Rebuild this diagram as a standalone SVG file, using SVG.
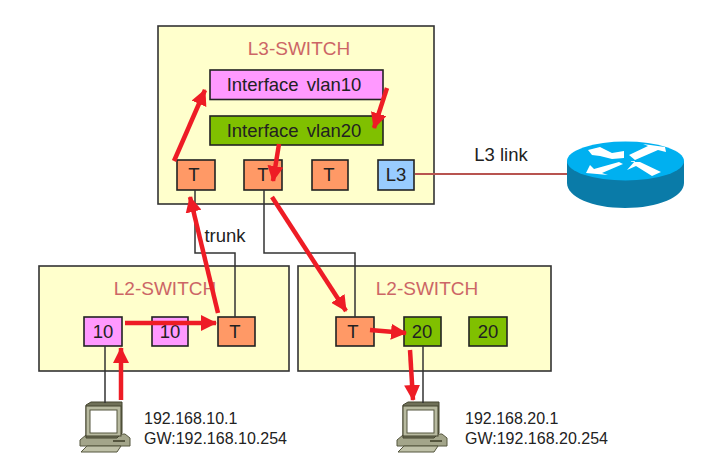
<svg xmlns="http://www.w3.org/2000/svg" width="702" height="459" viewBox="0 0 702 459">
<style>
text{font-family:"Liberation Sans",Arial,sans-serif;text-anchor:middle;fill:#222}
.sw{fill:#ffffcc;stroke:#333;stroke-width:1.6}
.port{stroke:#222;stroke-width:1.6}
.o{fill:#ff9966}.m{fill:#ff99ff}.g{fill:#80c000}.b{fill:#99ccff}
.t{font-size:19px;fill:#cc6666}
.l{font-size:18.500px}
.ip{font-size:16px;text-anchor:start}
.w{fill:none;stroke:#333;stroke-width:1.5}
.a{fill:none;stroke:#ee1c25;stroke-width:4.500;marker-end:url(#h)}
</style>
<defs>
<marker id="h" markerUnits="userSpaceOnUse" markerWidth="18" markerHeight="16" refX="15" refY="8" orient="auto"><path d="M0 0L16 8L0 16Z" fill="#ee1c25"/></marker>
<g id="pc">
<path d="M7 33L1 38V44H51V36L46 32Z" fill="#a3a58a" stroke="#55563f"/>
<path d="M8 44L2 50H38L42 44Z" fill="#bfc1a8" stroke="#55563f"/>
<path d="M7 3L12 0H43V31L38 36H7Z" fill="#6f7058" stroke="#44452f"/>
<rect x="7" y="4" width="35" height="30" fill="#b8baa0" stroke="#44452f"/>
<rect x="11" y="8" width="27" height="23" fill="#fff" stroke="#55563f"/>
<rect x="34" y="38" width="12" height="2" fill="#55563f"/>
</g>
</defs>
<g id="l3-switch">
<rect class="sw" x="158" y="26" width="276" height="178"/>
<text class="t" x="299" y="55">L3-SWITCH</text>
</g>
<g id="vlan10"><rect class="port m" x="210" y="70" width="173" height="29.500"/><text class="l" x="294" y="91" style="word-spacing:3px">Interface vlan10</text></g>
<g id="vlan20"><rect class="port g" x="210" y="116" width="173" height="29"/><text class="l" x="294" y="137" style="word-spacing:3px">Interface vlan20</text></g>
<g id="l3-t1"><rect class="port o" x="177" y="160" width="38" height="30"/><text class="l" x="194" y="181">T</text></g>
<g id="l3-t2"><rect class="port o" x="244" y="160" width="38" height="30"/><text class="l" x="263" y="181">T</text></g>
<g id="l3-t3"><rect class="port o" x="312" y="160" width="36" height="30"/><text class="l" x="329" y="181">T</text></g>
<g id="l3-l3"><rect class="port b" x="378" y="160" width="36" height="30"/><text class="l" x="396" y="181">L3</text></g>
<g id="l2-left">
<rect class="sw" x="39" y="266" width="250" height="105"/>
<text class="t" x="165" y="295">L2-SWITCH</text>
</g>
<g id="l2-right">
<rect class="sw" x="298" y="266" width="253" height="105"/>
<text class="t" x="427" y="295">L2-SWITCH</text>
</g>
<g id="left-p1"><rect class="port m" x="84" y="317" width="38" height="29"/><text class="l" x="103" y="338">10</text></g>
<g id="left-p2"><rect class="port m" x="152" y="317" width="36" height="29"/><text class="l" x="170" y="338">10</text></g>
<g id="left-t"><rect class="port o" x="218" y="317" width="37" height="29"/><text class="l" x="235" y="338">T</text></g>
<g id="right-t"><rect class="port o" x="336" y="317" width="38" height="29"/><text class="l" x="353" y="338">T</text></g>
<g id="right-p1"><rect class="port g" x="404" y="317" width="37" height="29"/><text class="l" x="422" y="338">20</text></g>
<g id="right-p2"><rect class="port g" x="469" y="317" width="38" height="29"/><text class="l" x="488" y="338">20</text></g>
<g id="router">
<path d="M567 161V183C567 197 592 208 625 208C658 208 684 197 684 183V161Z" fill="#0a7ba8"/>
<ellipse cx="625.500" cy="161" rx="58.500" ry="19.500" fill="#00b0f0"/>
<path d="M588 150L600 147L612 153L624 151L624 158L612 159L600 156L592 155Z" fill="#fff"/>
<path d="M629 155L648 146L643 144L665 147L666 152L658 150L635 160Z" fill="#fff"/>
<path d="M586 173L590 165L594 169L619 162L623 164L602 173L608 175Z" fill="#fff"/>
<path d="M627 170L635 161L630 161L640 162L661 172L652 176L636 166Z" fill="#fff"/>
</g>
<g id="pc-left"><use href="#pc" x="79" y="402"/><text class="ip" x="144" y="424">192.168.10.1</text><text class="ip" x="144" y="444">GW:192.168.10.254</text></g>
<g id="pc-right"><use href="#pc" x="396" y="402"/><text class="ip" x="465" y="424">192.168.20.1</text><text class="ip" x="465" y="444">GW:192.168.20.254</text></g>
<g id="connectors">
<path class="w" d="M195 190V253H235V317"/>
<path class="w" d="M264 190V253H355V317"/>
<path class="w" d="M105 346V403"/>
<path class="w" d="M423 346V403"/>
<path d="M415 174H567" fill="none" stroke="#b85450" stroke-width="2"/>
<path class="a" d="M174 161L205 90"/>
<path class="a" d="M387 88L374 128"/>
<path class="a" d="M279 144L273 181"/>
<path class="a" d="M272 197L346 311"/>
<path class="a" d="M218 313L190 197"/>
<path class="a" d="M125 323L216 323"/>
<path class="a" d="M121 400V348"/>
<path class="a" d="M370 330L406 333"/>
<path class="a" d="M410 350L413 400"/>
</g>
<text x="225" y="242" style="font-size:18.500px">trunk</text>
<text x="501" y="161" style="font-size:18.500px">L3 link</text>
</svg>
